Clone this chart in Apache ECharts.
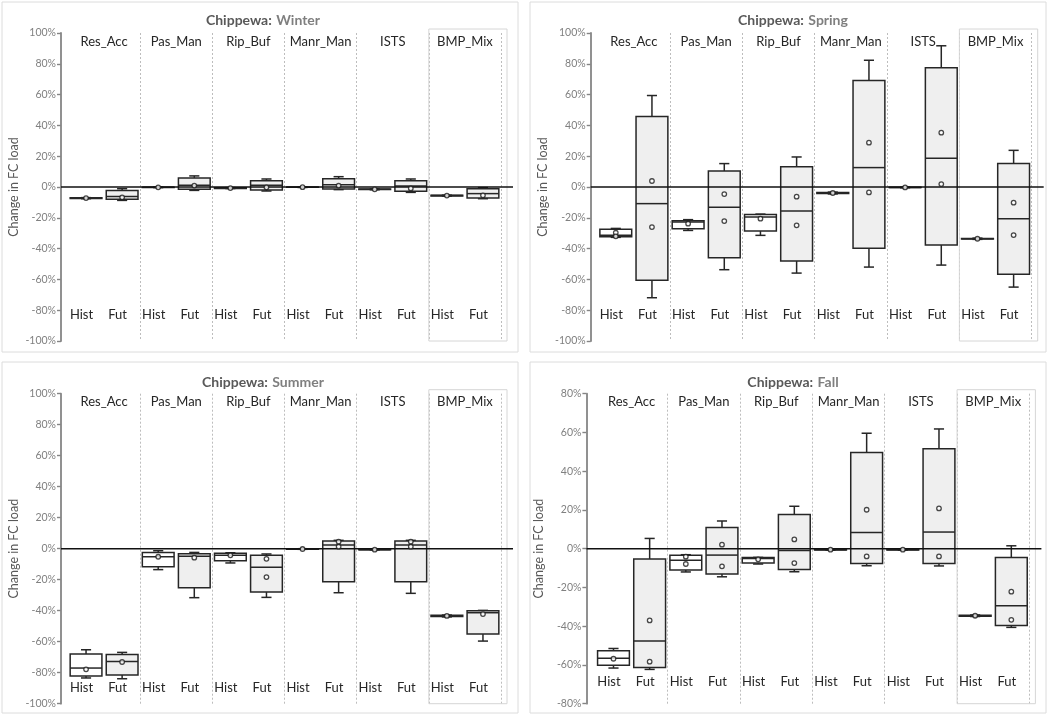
<!DOCTYPE html>
<html>
<head>
<meta charset="utf-8">
<script src="https://cdn.jsdelivr.net/npm/echarts@6/dist/echarts.min.js"></script>
<style>
  html, body { margin: 0; padding: 0; background: #fff; }
  #chart { width: 1050px; height: 715px; }
</style>
</head>
<body>
<div id="chart"></div>
<script>
// BMP groups and the two periods shown for each of them
const groups = ['Res_Acc', 'Pas_Man', 'Rip_Buf', 'Manr_Man', 'ISTS', 'BMP_Mix']
const periods = ['Hist', 'Fut']
const seasons = ['Winter', 'Spring', 'Summer', 'Fall']

// box rows: [min, Q1, median, Q3, max] in %, order Res_Acc Hist, Res_Acc Fut, Pas_Man Hist, ...
const winterBoxes = [
  [-7.6, -7.4, -7.2, -7.0, -6.9], [-8.7, -8.0, -6.1, -2.2, -1.1],
  [-0.4, -0.3, -0.2, -0.1, 0.0], [-2.2, -1.5, 1.1, 5.9, 7.2],
  [-1.0, -0.9, -0.7, -0.5, -0.4], [-2.6, -2.0, 1.1, 4.1, 5.2],
  [-0.3, -0.2, -0.1, 0.0, 0.1], [-1.7, -1.3, 1.5, 5.4, 6.7],
  [-1.8, -1.7, -1.5, -1.3, -1.2], [-3.5, -2.8, 0.6, 4.1, 5.2],
  [-5.9, -5.8, -5.6, -5.4, -5.3], [-7.6, -7.2, -4.3, -1.1, -0.4]
]
const winterMarkA = [-7.2, -6.7, -0.2, 0.9, -0.7, -0.2, -0.1, 0.9, -1.5, -0.9, -5.6, -5.4]
const winterMarkB = [null, null, null, null, null, null, null, null, null, null, null, null]

const springBoxes = [
  [-32.7, -32.3, -31.4, -27.5, -26.9], [-71.9, -60.5, -10.8, 45.7, 59.4],
  [-28.2, -27.1, -22.8, -21.9, -21.2], [-53.7, -45.9, -13.2, 10.4, 15.2],
  [-31.4, -28.6, -19.5, -17.8, -17.6], [-55.9, -48.1, -15.6, 13.2, 19.5],
  [-4.5, -4.3, -3.9, -3.5, -3.3], [-52.0, -39.7, 12.6, 69.1, 82.3],
  [-0.5, -0.4, -0.3, -0.2, -0.1], [-50.7, -37.7, 18.6, 77.4, 91.7],
  [-34.0, -33.8, -33.6, -33.4, -33.2], [-65.0, -56.6, -20.6, 15.2, 23.8]
]
const springMarkA = [-29.7, 3.9, -23.8, -4.6, -20.6, -6.3, -3.9, 28.8, -0.3, 35.3, -33.6, -10.2]
const springMarkB = [-32.0, -26.0, null, -22.1, null, -24.9, null, -3.5, null, 1.9, null, -31.2]

const summerBoxes = [
  [-83.4, -82.2, -77.0, -68.0, -65.2], [-83.9, -81.5, -72.7, -68.2, -66.9],
  [-13.5, -11.6, -5.2, -2.4, -1.3], [-31.6, -25.2, -4.9, -3.2, -2.4],
  [-9.2, -7.7, -4.3, -3.0, -2.6], [-31.4, -28.0, -12.0, -4.3, -3.4],
  [-0.4, -0.3, -0.2, -0.1, 0.0], [-28.4, -21.3, 2.4, 4.9, 5.4],
  [-0.8, -0.7, -0.6, -0.5, -0.4], [-28.8, -21.3, 2.4, 4.9, 5.4],
  [-44.0, -43.8, -43.4, -43.0, -42.8], [-59.6, -55.1, -41.3, -40.0, -39.8]
]
const summerMarkA = [-77.8, -73.1, -5.2, -5.8, -4.3, -6.5, -0.2, 4.5, -0.6, 4.5, -43.4, -42.2]
const summerMarkB = [null, null, null, null, null, -18.3, null, 1.3, null, 1.3, null, null]

const fallBoxes = [
  [-61.6, -60.2, -56.6, -52.7, -51.5], [-62.3, -61.3, -47.7, -5.3, 5.3],
  [-12.0, -11.0, -6.0, -3.4, -3.1], [-14.5, -13.1, -3.3, 11.0, 14.3],
  [-7.9, -7.4, -5.0, -4.6, -4.5], [-11.9, -10.7, -0.9, 17.6, 21.9],
  [-0.8, -0.7, -0.5, -0.3, -0.2], [-8.8, -7.6, 8.3, 49.6, 59.6],
  [-0.8, -0.7, -0.5, -0.3, -0.2], [-8.9, -7.7, 8.6, 51.6, 61.8],
  [-35.0, -34.8, -34.6, -34.4, -34.2], [-40.6, -39.6, -29.4, -4.5, 1.5]
]
const fallMarkA = [-56.8, -37.0, -4.1, 2.1, -5.5, 4.8, -0.5, 20.1, -0.5, 20.8, -34.6, -22.2]
const fallMarkB = [null, -58.3, -7.9, -9.1, null, -7.4, null, -4.0, null, -4.0, null, -36.7]

// y axis range per season
const yRanges = [[-100, 100], [-100, 100], [-100, 100], [-80, 80]]

const panelData = [
  { boxes: winterBoxes, markA: winterMarkA, markB: winterMarkB },
  { boxes: springBoxes, markA: springMarkA, markB: springMarkB },
  { boxes: summerBoxes, markA: summerMarkA, markB: summerMarkB },
  { boxes: fallBoxes, markA: fallMarkA, markB: fallMarkB }
]

// where each panel sits on the page
const panelLayout = [
  { left: 68, top: 33, width: 433, height: 308, axisGap: 7, periodMargin: -33, titleX: 258, titleY: 6, frame: [2, 2, 516, 350] },
  { left: 597.7, top: 33, width: 434, height: 308, axisGap: 7, periodMargin: -33, titleX: 788, titleY: 6, frame: [530, 2, 516, 350] },
  { left: 68, top: 393.7, width: 433, height: 310, axisGap: 7, periodMargin: -22, titleX: 258, titleY: 368, frame: [2, 362, 516, 351] },
  { left: 595.4, top: 393.7, width: 434, height: 310, axisGap: 9, periodMargin: -28, titleX: 788, titleY: 368, frame: [530, 362, 516, 351] }
]

const FONT = 'Lato'
const INK = '#262626'
const categories = groups.flatMap((g) => periods.map((p) => g + '|' + p))

const renderBox = (params, api) => {
  const x = api.value(0)
  const band = api.size([1, 0])[0]
  const half = band * 0.44
  const cap = band * 0.14
  const pMin = api.coord([x, api.value(1)])
  const pQ1 = api.coord([x, api.value(2)])
  const pMed = api.coord([x, api.value(3)])
  const pQ3 = api.coord([x, api.value(4)])
  const pMax = api.coord([x, api.value(5)])
  const cx = pMed[0]
  const stroke = { stroke: INK, lineWidth: 1.5 }
  const seg = (x1, y1, x2, y2) => ({ type: 'line', shape: { x1, y1, x2, y2 }, style: stroke })
  return {
    type: 'group',
    children: [
      seg(cx, pQ3[1], cx, pMax[1]),
      seg(cx - cap, pMax[1], cx + cap, pMax[1]),
      seg(cx, pQ1[1], cx, pMin[1]),
      seg(cx - cap, pMin[1], cx + cap, pMin[1]),
      {
        type: 'rect',
        shape: { x: cx - half, y: pQ3[1], width: half * 2, height: pQ1[1] - pQ3[1] },
        style: { fill: x % 2 === 0 ? '#ffffff' : '#efefef', stroke: INK, lineWidth: 1.5 }
      },
      seg(cx - half, pMed[1], cx + half, pMed[1])
    ]
  }
}

const option = {
  animation: false,
  backgroundColor: '#fff',
  textStyle: { fontFamily: FONT },
  title: [],
  graphic: [],
  grid: [],
  xAxis: [],
  yAxis: [],
  series: []
}

seasons.forEach((season, i) => {
  const lay = panelLayout[i]
  const data = panelData[i]
  const [yMin, yMax] = yRanges[i]

  option.graphic.push({
    type: 'rect',
    shape: { x: lay.frame[0], y: lay.frame[1], width: lay.frame[2], height: lay.frame[3] },
    style: { fill: 'none', stroke: '#dcdcdc', lineWidth: 1 },
    z: -1
  })

  option.title.push({
    text: '{b|Chippewa:} {n|' + season + '}',
    left: lay.titleX,
    top: lay.titleY,
    textAlign: 'center',
    textStyle: {
      rich: {
        b: { fontFamily: FONT, fontSize: 14, fontWeight: 'bold', color: '#595959' },
        n: { fontFamily: FONT, fontSize: 14, color: '#7f7f7f' }
      }
    }
  })

  option.grid.push({ left: lay.left, top: lay.top, width: lay.width, height: lay.height, containLabel: false })

  // bottom axis: Hist / Fut labels, dashed separators between groups
  option.xAxis.push({
    type: 'category',
    gridIndex: i,
    data: categories,
    position: 'bottom',
    axisLine: { show: false },
    axisTick: { show: false, interval: 0 },
    axisLabel: {
      interval: 0,
      margin: lay.periodMargin,
      color: INK,
      fontSize: 13,
      fontFamily: FONT,
      padding: [0, 9, 0, 0],
      formatter: (v) => v.split('|')[1]
    },
    splitLine: {
      show: true,
      interval: (idx) => idx > 0 && idx % 2 === 0,
      lineStyle: { color: '#bdbdbd', type: [2, 2], width: 1 }
    }
  })
  // top axis: group names inside the plot
  option.xAxis.push({
    type: 'category',
    gridIndex: i,
    data: groups,
    position: 'top',
    axisLine: { show: false },
    axisTick: { show: false },
    axisLabel: { interval: 0, margin: -15, color: INK, fontSize: 13, fontFamily: FONT },
    splitLine: { show: false }
  })

  option.yAxis.push({
    type: 'value',
    gridIndex: i,
    min: yMin,
    max: yMax,
    interval: 20,
    offset: lay.axisGap,
    name: 'Change in FC load',
    nameLocation: 'middle',
    nameGap: 41,
    nameTextStyle: { color: '#595959', fontSize: 12.5, fontFamily: FONT },
    axisLine: { show: true, lineStyle: { color: '#858585', width: 1.8 } },
    axisTick: { show: true, length: 4, lineStyle: { color: '#858585', width: 1.4 } },
    axisLabel: { formatter: '{value}%', color: '#808080', fontSize: 10.5, margin: 5, fontFamily: FONT },
    splitLine: { show: false }
  })

  const xIdx = i * 2
  const last = categories.length - 1

  // BMP_Mix frame
  option.series.push({
    type: 'custom',
    xAxisIndex: xIdx,
    yAxisIndex: i,
    silent: true,
    z: 1,
    data: [[last - 1, last, yMin, yMax]],
    renderItem: (params, api) => {
      const band = api.size([1, 0])[0]
      const pA = api.coord([api.value(0), api.value(3)])
      const pB = api.coord([api.value(1), api.value(2)])
      const x0 = pA[0] - band / 2
      const x1 = pB[0] + band / 2 + 6
      return {
        type: 'rect',
        shape: { x: x0, y: pA[1] - 4, width: x1 - x0, height: pB[1] - pA[1] + 4 },
        style: { fill: 'none', stroke: '#d6d6d6', lineWidth: 1 }
      }
    }
  })

  option.series.push({
    type: 'custom',
    xAxisIndex: xIdx,
    yAxisIndex: i,
    silent: true,
    z: 2,
    encode: { x: 0, y: [1, 2, 3, 4, 5] },
    data: data.boxes.map((b, k) => [k].concat(b)),
    renderItem: renderBox
  })

  // zero line, running from the y axis to past the last box
  option.series.push({
    type: 'custom',
    xAxisIndex: xIdx,
    yAxisIndex: i,
    silent: true,
    z: 3,
    data: [[0, 0]],
    renderItem: (params, api) => {
      const cs = params.coordSys
      const y = api.coord([0, api.value(1)])[1]
      return {
        type: 'line',
        shape: { x1: cs.x - lay.axisGap, y1: y, x2: cs.x + cs.width + 12, y2: y },
        style: { stroke: '#111', lineWidth: 1.4 }
      }
    }
  })

  const markStyle = { color: '#fff', borderColor: '#1a1a1a', borderWidth: 1.3 }
  ;[data.markA, data.markB].forEach((marks) => {
    option.series.push({
      type: 'scatter',
      xAxisIndex: xIdx,
      yAxisIndex: i,
      silent: true,
      z: 4,
      symbol: 'circle',
      symbolSize: 4.5,
      itemStyle: markStyle,
      data: marks.map((v, k) => (v == null ? null : [k, v])).filter((d) => d)
    })
  })
})

const chart = echarts.init(document.getElementById('chart'), null, { renderer: 'canvas' })
chart.setOption(option)
</script>
</body>
</html>
